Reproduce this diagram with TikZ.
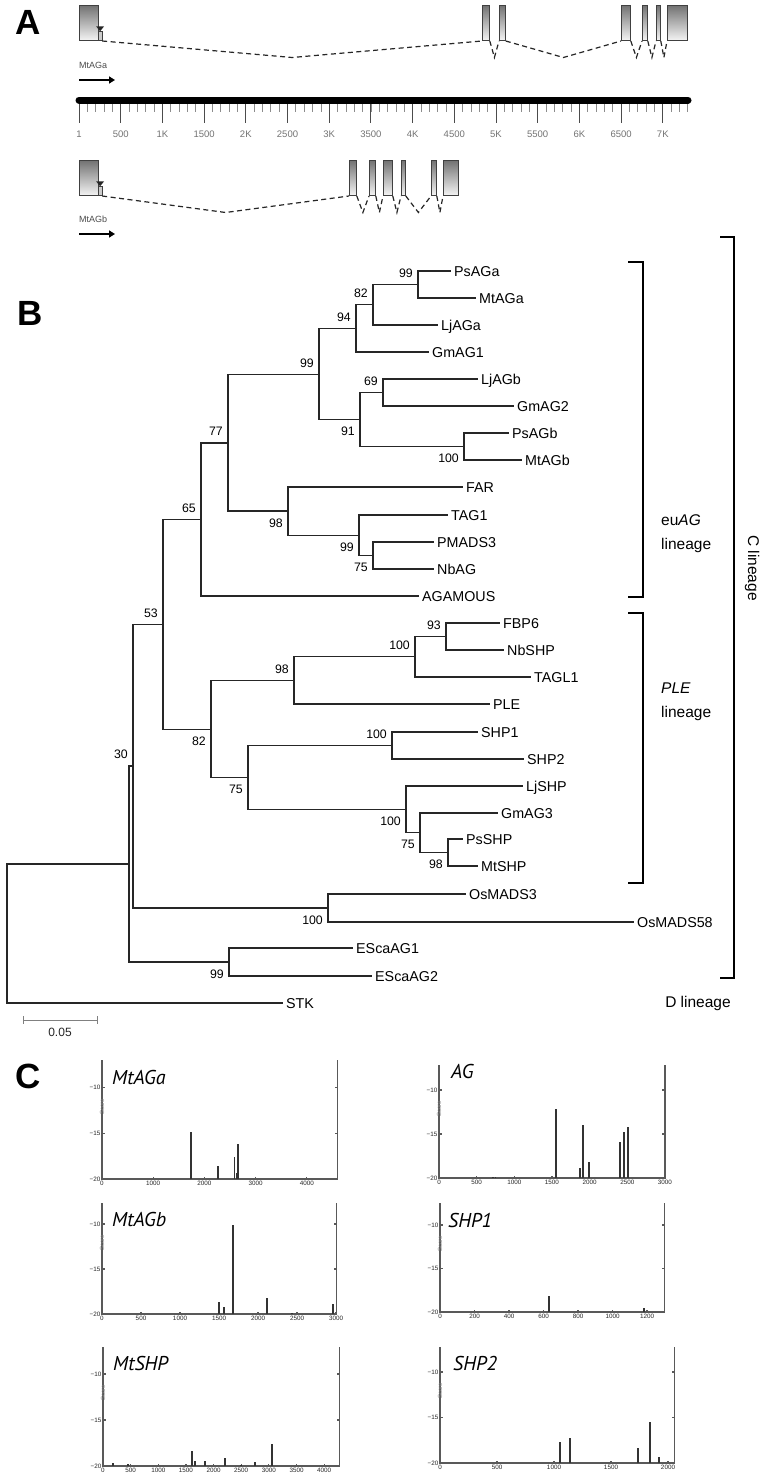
\documentclass[tikz,border=0pt]{standalone}
\usepackage{fontspec}
\setmainfont{Liberation Sans}
\newfontfamily\plotfont{PT Sans}
\usetikzlibrary{arrows.meta, calc}

\tikzset{
  panel/.style={font=\fontsize{35}{40}\selectfont\bfseries, inner sep=0pt},
  exon/.style={draw=black!75, line width=0.8pt, top color=black!55, bottom color=black!4,
               inner sep=0pt, minimum height=35pt, anchor=south west},
  startbar/.style={draw=black!75, line width=0.7pt, fill=black!20, inner sep=0pt,
               minimum width=3.5pt, minimum height=9pt, anchor=south west},
  intron/.style={line width=1.2pt, black!85, dash pattern=on 5pt off 3.5pt},
  genelabel/.style={anchor=west, inner sep=0pt, font=\fontsize{9}{10}\selectfont, text=black!70},
  genearrow/.style={line width=2.2pt, -{Triangle[length=6pt, width=7pt]}},
  rulerlab/.style={inner sep=0pt, font=\fontsize{9.5}{10}\selectfont, text=black!55},
  branch/.style={line width=1.1pt, black!85, line cap=rect},
  leaf/.style={anchor=west, inner xsep=4pt, inner ysep=0pt, text height=10.3pt, text depth=0pt,
               font=\fontsize{14.3}{16}\selectfont},
  bsup/.style={anchor=south east, inner sep=0pt, xshift=-5pt, yshift=7pt, text height=8.8pt,
               text depth=0pt, font=\fontsize{12.3}{13}\selectfont},
  bsdn/.style={anchor=north east, inner sep=0pt, xshift=-5pt, yshift=-7pt, text height=8.8pt,
               text depth=0pt, font=\fontsize{12.3}{13}\selectfont},
  bracket/.style={line width=2.6pt},
  linetext/.style={anchor=west, inner sep=0pt, font=\fontsize{15.5}{17}\selectfont},
  axisline/.style={black!65, line width=1.2pt},
  hit/.style={black!80, line width=1.8pt},
  ticklab/.style={inner sep=1.5pt, font=\fontsize{6.3}{7}\selectfont, text=black!85},
  scorelab/.style={rotate=90, inner sep=0pt, xshift=-19pt, font=\fontsize{6}{7}\selectfont, text=black!50},
  genename/.style={anchor=west, inner sep=0pt, font=\plotfont\itshape\fontsize{20}{22}\selectfont},
}

% frame of one score plot: #1 x max, #2 top, #3 x ticks
\newcommand{\scoreaxes}[3]{%
  \draw[axisline] (0,#2) -- (0,0) -- (#1,0) -- (#1,#2);
  \foreach \yv/\ylab in {10/−10, 5/−15, 0/−20} {
    \draw[axisline] (0,\yv) -- ++(2.5pt,0);
    \draw[axisline] (#1,\yv) -- ++(-2.5pt,0);
    \node[ticklab, anchor=east] (ytick\yv) at (0,\yv) {\ylab};
  }
  \foreach \xv in {#3} {
    \draw[axisline] (\xv,0) -- ++(0,2.5pt);
    \node[ticklab, anchor=north] (xtick\xv) at (\xv,0) {\xv};
  }
  \node[scorelab] (score) at (0,10) {Score};
}

\begin{document}
\begin{tikzpicture}[x=1pt, y=-1pt]
  \fill[white] (0,0) rectangle (764,1480);
  \useasboundingbox (0,0) rectangle (764,1480);

  \node[panel] (pA) at (28,22) {A};
  \node[panel] (pB) at (30,313) {B};
  \node[panel] (pC) at (28,1076) {C};

  % gene MtAGa
  \node[exon, minimum width=19pt] (a1) at (79,41) {};
  \node[startbar] (a0) at (98,41) {};
  \fill[black!85] (a0.north) -- ++(-4,-5) -- ++(8,0) -- cycle;
  \node[exon, minimum width=7pt] (a2) at (482,41) {};
  \node[exon, minimum width=6pt] (a3) at (499,41) {};
  \node[exon, minimum width=9pt] (a4) at (621,41) {};
  \node[exon, minimum width=5pt] (a5) at (642,41) {};
  \node[exon, minimum width=4pt] (a6) at (656,41) {};
  \node[exon, minimum width=20pt] (a7) at (667,41) {};
  \foreach \u/\v in {a0/a2, a2/a3, a3/a4, a4/a5, a5/a6, a6/a7}
    \draw[intron] (\u.south east) -- ($(\u.south east)!0.5!(\v.south west)+(0,16.5)$) -- (\v.south west);
  \node[genelabel] (la) at (79,65) {MtAGa};
  \draw[genearrow] (79,80) -- (115,80);

  % ruler
  \draw[line width=7pt, line cap=round] (79,100) -- (688,100);
  \foreach \i in {0,...,73}
    \draw[black!45, line width=0.7pt] ({79+8.34*\i},104) -- ({79+8.34*\i},112);
  \foreach \lab [count=\k from 0] in {1,500,1K,1500,2K,2500,3K,3500,4K,4500,5K,5500,6K,6500,7K} {
    \draw[black!70, line width=1pt] ({79+41.7*\k},104) -- ({79+41.7*\k},123);
    \node[rulerlab] (r\k) at ({79+41.7*\k},134) {\lab};
  }

  % gene MtAGb
  \node[exon, minimum width=19pt] (b1) at (79,196) {};
  \node[startbar] (b0) at (98,196) {};
  \fill[black!85] (b0.north) -- ++(-4,-5) -- ++(8,0) -- cycle;
  \node[exon, minimum width=7pt] (b2) at (349,196) {};
  \node[exon, minimum width=6pt] (b3) at (369,196) {};
  \node[exon, minimum width=9pt] (b4) at (383,196) {};
  \node[exon, minimum width=4pt] (b5) at (401,196) {};
  \node[exon, minimum width=5pt] (b6) at (431,196) {};
  \node[exon, minimum width=15pt] (b7) at (443,196) {};
  \foreach \u/\v in {b0/b2, b2/b3, b3/b4, b4/b5, b5/b6, b6/b7}
    \draw[intron] (\u.south east) -- ($(\u.south east)!0.5!(\v.south west)+(0,16.5)$) -- (\v.south west);
  \node[genelabel] (lb) at (79,219) {MtAGb};
  \draw[genearrow] (79,234) -- (115,234);

  % tree: inner nodes
  \coordinate (root) at (7,933.5);
  \coordinate (n129) at (129,864);
  \coordinate (n30) at (133,766);
  \coordinate (n53) at (163,624.5);
  \coordinate (n65) at (201,519.5);
  \coordinate (n77) at (228,443);
  \coordinate (n99) at (319,374.5);
  \coordinate (n94) at (356,328.5);
  \coordinate (n82a) at (373,304.75);
  \coordinate (n99a) at (418,284.5);
  \coordinate (n91) at (360,419.75);
  \coordinate (n69) at (383,392.5);
  \coordinate (n100a) at (464,446.5);
  \coordinate (n98) at (288,511);
  \coordinate (n99b) at (359,535.25);
  \coordinate (n75a) at (373,555.5);
  \coordinate (n82) at (211,729.5);
  \coordinate (n98c) at (294,680.5);
  \coordinate (n100b) at (415,656.75);
  \coordinate (n93) at (446,636.5);
  \coordinate (n75b) at (248,777.5);
  \coordinate (n100c) at (392,745.5);
  \coordinate (n100d) at (406,809.5);
  \coordinate (n75c) at (420,832.75);
  \coordinate (n98d) at (448,852.5);
  \coordinate (nos) at (328,908);
  \coordinate (nesca) at (229,962);

  % tree: leaves
  \node[leaf] (psaga) at (450,271) {PsAGa};
  \node[leaf] (mtaga) at (475,298) {MtAGa};
  \node[leaf] (ljaga) at (437,325) {LjAGa};
  \node[leaf] (gmag1) at (428,352) {GmAG1};
  \node[leaf] (ljagb) at (477,379) {LjAGb};
  \node[leaf] (gmag2) at (513,406) {GmAG2};
  \node[leaf] (psagb) at (508,433) {PsAGb};
  \node[leaf] (mtagb) at (521,460) {MtAGb};
  \node[leaf] (far) at (462,487) {FAR};
  \node[leaf] (tag1) at (447,515) {TAG1};
  \node[leaf] (pmads3) at (433,542) {PMADS3};
  \node[leaf] (nbag) at (433,569) {NbAG};
  \node[leaf] (agamous) at (418,596) {AGAMOUS};
  \node[leaf] (fbp6) at (499,623) {FBP6};
  \node[leaf] (nbshp) at (503,650) {NbSHP};
  \node[leaf] (tagl1) at (530,677) {TAGL1};
  \node[leaf] (ple) at (489,704) {PLE};
  \node[leaf] (shp1) at (477,732) {SHP1};
  \node[leaf] (shp2) at (523,759) {SHP2};
  \node[leaf] (ljshp) at (522,786) {LjSHP};
  \node[leaf] (gmag3) at (497,813) {GmAG3};
  \node[leaf] (psshp) at (462,839) {PsSHP};
  \node[leaf] (mtshp) at (477,866) {MtSHP};
  \node[leaf] (osmads3) at (465,894) {OsMADS3};
  \node[leaf] (osmads58) at (633,922) {OsMADS58};
  \node[leaf] (escaag1) at (352,948) {EScaAG1};
  \node[leaf] (escaag2) at (371,976) {EScaAG2};
  \node[leaf] (stk) at (282,1003) {STK};

  % tree: branches
  \foreach \p/\c in {root/n129, root/stk.west, n129/n30, n129/nesca, n30/n53, n30/nos,
      n53/n65, n53/n82, n65/n77, n65/agamous.west, n77/n99, n77/n98, n99/n94, n99/n91,
      n94/n82a, n94/gmag1.west, n82a/n99a, n82a/ljaga.west, n99a/psaga.west, n99a/mtaga.west,
      n91/n69, n91/n100a, n69/ljagb.west, n69/gmag2.west, n100a/psagb.west, n100a/mtagb.west,
      n98/far.west, n98/n99b, n99b/tag1.west, n99b/n75a, n75a/pmads3.west, n75a/nbag.west,
      n82/n98c, n82/n75b, n98c/n100b, n98c/ple.west, n100b/n93, n100b/tagl1.west,
      n93/fbp6.west, n93/nbshp.west, n75b/n100c, n75b/n100d, n100c/shp1.west, n100c/shp2.west,
      n100d/ljshp.west, n100d/n75c, n75c/gmag3.west, n75c/n98d, n98d/psshp.west, n98d/mtshp.west,
      nos/osmads3.west, nos/osmads58.west, nesca/escaag1.west, nesca/escaag2.west}
    \draw[branch] (\p) |- (\c);

  % tree: bootstrap values
  \foreach \n/\b in {n99a/99, n82a/82, n94/94, n99/99, n69/69, n77/77, n65/65, n53/53,
      n93/93, n100b/100, n98c/98, n100c/100, n30/30}
    \node[bsup] (bs\n) at (\n) {\b};
  \foreach \n/\b in {n91/91, n100a/100, n98/98, n99b/99, n75a/75, n82/82, n75b/75,
      n100d/100, n75c/75, n98d/98, nos/100, nesca/99}
    \node[bsdn] (bs\n) at (\n) {\b};

  % lineages
  \draw[bracket] (628,262) -- (643,262) -- (643,597) -- (628,597);
  \draw[bracket] (628,613) -- (643,613) -- (643,883) -- (628,883);
  \draw[bracket] (720,237) -- (734,237) -- (734,978) -- (720,978);
  \node[linetext] (eu) at (661,520) {eu\textit{AG}};
  \node[linetext] (eulin) at (661,545) {lineage};
  \node[linetext] (pl) at (661,688) {\textit{PLE}};
  \node[linetext] (pllin) at (661,713) {lineage};
  \node[linetext, anchor=center, rotate=-90] (clin) at (752,568) {C lineage};
  \node[linetext, anchor=center] (dlin) at (698,1003) {D lineage};

  % scale bar
  \draw[black!50, line width=0.9pt] (23,1016) -- (23,1024) (23,1020) -- (97,1020) (97,1016) -- (97,1024);
  \node[inner sep=0pt, font=\fontsize{12}{13}\selectfont, text=black!85] (sc) at (60,1032) {0.05};

  % C: score plots
  \begin{scope}[shift={(102,1179)}, x=0.0512pt, y=9.13pt]
    \scoreaxes{4600}{13}{0,1000,...,4000}
    \foreach \a/\s in {1740/5.15, 2270/1.4, 2590/2.4, 2630/0.7, 2660/3.8}
      \draw[hit] (\a,0) -- (\a,\s);
  \end{scope}
  \node[genename] (g1) at (112,1077) {MtAGa};

  \begin{scope}[shift={(439,1178)}, x=0.0753pt, y=8.8pt]
    \scoreaxes{3000}{12.8}{0,500,...,3000}
    \foreach \a/\s in {720/0.15, 750/0.15, 1554/7.8, 1870/1.1, 1910/6.0, 1990/1.8, 2400/4.1, 2460/5.2, 2510/5.8}
      \draw[hit] (\a,0) -- (\a,\s);
  \end{scope}
  \node[genename] (g2) at (451,1071) {AG};

  \begin{scope}[shift={(102,1314)}, x=0.078pt, y=9pt]
    \scoreaxes{3010}{12.3}{0,500,...,3000}
    \foreach \a/\s in {1500/1.3, 1560/0.8, 1680/9.9, 2115/1.8, 2440/0.15, 2960/1.1}
      \draw[hit] (\a,0) -- (\a,\s);
  \end{scope}
  \node[genename] (g3) at (112,1219) {MtAGb};

  \begin{scope}[shift={(440,1312)}, x=0.1725pt, y=8.7pt]
    \scoreaxes{1300}{12.5}{0,200,...,1200}
    \foreach \a/\s in {630/1.8, 1182/0.5}
      \draw[hit] (\a,0) -- (\a,\s);
  \end{scope}
  \node[genename] (g4) at (448,1220) {SHP1};

  \begin{scope}[shift={(103,1466)}, x=0.0553pt, y=9.2pt]
    \scoreaxes{4270}{12.9}{0,500,...,4000}
    \foreach \a/\s in {180/0.3, 450/0.2, 1610/1.6, 1660/0.5, 1845/0.5, 2205/0.9, 2490/0.1, 2750/0.4, 3050/2.4}
      \draw[hit] (\a,0) -- (\a,\s);
  \end{scope}
  \node[genename] (g5) at (113,1363) {MtSHP};

  \begin{scope}[shift={(440,1463)}, x=0.114pt, y=9.1pt]
    \scoreaxes{2060}{12.7}{0,500,...,2000}
    \foreach \a/\s in {1050/2.3, 1140/2.7, 1735/1.6, 1840/4.5, 1920/0.7}
      \draw[hit] (\a,0) -- (\a,\s);
  \end{scope}
  \node[genename] (g6) at (453,1363) {SHP2};
\end{tikzpicture}
\end{document}
